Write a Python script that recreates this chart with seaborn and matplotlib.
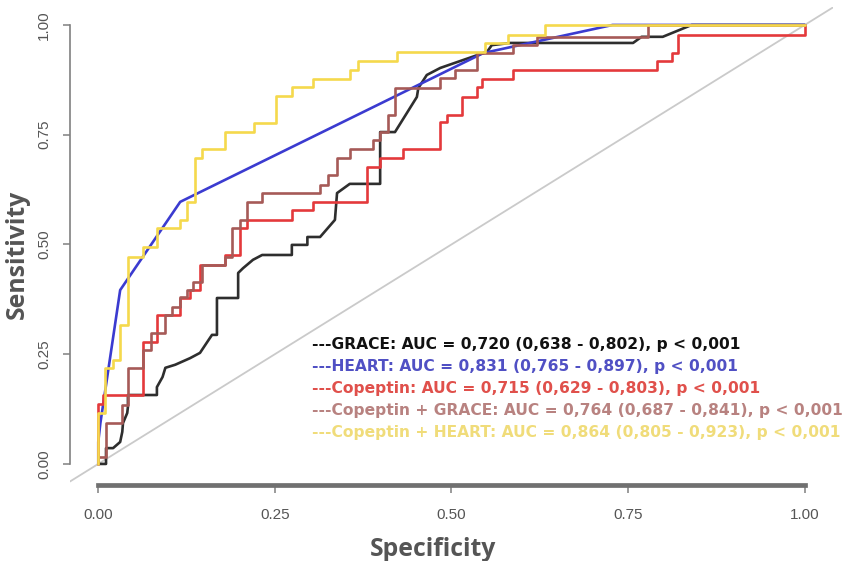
import matplotlib
matplotlib.use("Agg")
import matplotlib.pyplot as plt
import seaborn as sns
import pandas as pd

# ---------------- data ----------------
# GRACE (vertices, includes tied diagonal segments)
grace_x = [0.0, 0.011, 0.011, 0.021, 0.031, 0.034, 0.035, 0.041, 0.042, 0.042, 0.083, 0.083,
           0.091, 0.095, 0.109, 0.130, 0.144, 0.156, 0.161, 0.168, 0.168, 0.198, 0.198, 0.205,
           0.219, 0.232, 0.274, 0.274, 0.296, 0.296, 0.314, 0.335, 0.338, 0.356, 0.399, 0.399,
           0.420, 0.451, 0.453, 0.465, 0.484, 0.509, 0.545, 0.550, 0.557, 0.583, 0.757, 0.769,
           0.799, 0.840, 1.0]
grace_y = [0.0, 0.0, 0.036, 0.036, 0.050, 0.073, 0.093, 0.116, 0.130, 0.157, 0.157, 0.175,
           0.198, 0.219, 0.226, 0.241, 0.253, 0.282, 0.294, 0.294, 0.378, 0.378, 0.435, 0.446,
           0.465, 0.476, 0.476, 0.499, 0.499, 0.517, 0.517, 0.556, 0.617, 0.638, 0.638, 0.756,
           0.756, 0.836, 0.856, 0.886, 0.902, 0.916, 0.936, 0.938, 0.954, 0.959, 0.959, 0.973,
           0.973, 1.0, 1.0]

# HEART (few thresholds -> straight segments)
heart_x = [0.0, 0.0, 0.003, 0.031, 0.116, 0.545, 0.728, 1.0]
heart_y = [0.0, 0.05, 0.093, 0.396, 0.597, 0.936, 1.0, 1.0]

# Copeptin (step curve)
cop_x = [0.0, 0.007, 0.064, 0.083, 0.116, 0.130, 0.144, 0.180, 0.201, 0.211, 0.274, 0.304,
         0.380, 0.399, 0.431, 0.484, 0.494, 0.515, 0.536, 0.543, 0.587, 0.791, 0.812, 0.820,
         1.0, 1.0]
cop_y = [0.0, 0.137, 0.157, 0.278, 0.339, 0.378, 0.396, 0.453, 0.476, 0.538, 0.556, 0.579,
         0.597, 0.677, 0.697, 0.718, 0.779, 0.795, 0.836, 0.859, 0.877, 0.897, 0.918, 0.936,
         0.977, 1.0]

# Copeptin + GRACE (step curve)
copg_x = [0.0, 0.011, 0.034, 0.042, 0.064, 0.074, 0.095, 0.105, 0.116, 0.126, 0.134, 0.147,
          0.180, 0.190, 0.201, 0.211, 0.232, 0.314, 0.325, 0.338, 0.356, 0.389, 0.399, 0.410,
          0.420, 0.484, 0.505, 0.536, 0.587, 0.621, 0.778, 1.0]
copg_y = [0.0, 0.016, 0.093, 0.134, 0.219, 0.260, 0.298, 0.339, 0.357, 0.380, 0.396, 0.415,
          0.453, 0.472, 0.538, 0.556, 0.597, 0.617, 0.636, 0.658, 0.697, 0.718, 0.738, 0.756,
          0.795, 0.856, 0.879, 0.897, 0.936, 0.954, 0.973, 1.0]

# Copeptin + HEART (step curve)
coph_x = [0.0, 0.010, 0.021, 0.031, 0.042, 0.064, 0.083, 0.116, 0.126, 0.137, 0.147, 0.180,
          0.221, 0.252, 0.274, 0.304, 0.356, 0.368, 0.423, 0.547, 0.580, 0.632, 1.0]
coph_y = [0.0, 0.116, 0.219, 0.237, 0.317, 0.472, 0.494, 0.538, 0.556, 0.597, 0.697, 0.718,
          0.756, 0.777, 0.838, 0.859, 0.877, 0.897, 0.918, 0.938, 0.959, 0.977, 1.0]

tick_values = [0.0, 0.25, 0.5, 0.75, 1.0]
tick_labels = ["0.00", "0.25", "0.50", "0.75", "1.00"]

legend_labels = [
    "---GRACE: AUC = 0,720 (0,638 - 0,802), p < 0,001",
    "---HEART: AUC = 0,831 (0,765 - 0,897), p < 0,001",
    "---Copeptin: AUC = 0,715 (0,629 - 0,803), p < 0,001",
    "---Copeptin + GRACE: AUC = 0,764 (0,687 - 0,841), p < 0,001",
    "---Copeptin + HEART: AUC = 0,864 (0,805 - 0,923), p < 0,001",
]

# ---------------- styling ----------------
sns.set_theme(style="white")
plt.rcParams["font.family"] = ["DejaVu Sans"]

line_colors = ["#2e2e2e", "#3b3bd0", "#e4393b", "#a65a57", "#f5d94c"]
text_colors = ["#111111", "#5050c4", "#e0504b", "#b88280", "#f0dc7a"]

fig = plt.figure(figsize=(8.44, 5.61), dpi=100)
ax = fig.add_axes([70 / 844, 76 / 561, 763 / 844, 477.6 / 561])
ax.set_xlim(-0.04, 1.04)
ax.set_ylim(-0.048, 1.04)

# reference diagonal
ax.axline((0, 0), slope=1, color="#cacaca", lw=1.3, zorder=1)

lw = 1.9
sns.lineplot(x=grace_x, y=grace_y, sort=False, estimator=None, color=line_colors[0],
             lw=lw, ax=ax, zorder=3)
sns.lineplot(x=heart_x, y=heart_y, sort=False, estimator=None, color=line_colors[1],
             lw=lw, ax=ax, zorder=3)
sns.lineplot(x=cop_x, y=cop_y, sort=False, estimator=None, color=line_colors[2],
             lw=lw, ax=ax, drawstyle="steps-pre", zorder=3)
sns.lineplot(x=copg_x, y=copg_y, sort=False, estimator=None, color=line_colors[3],
             lw=lw, ax=ax, drawstyle="steps-pre", zorder=3)
sns.lineplot(x=coph_x, y=coph_y, sort=False, estimator=None, color=line_colors[4],
             lw=lw, ax=ax, drawstyle="steps-pre", zorder=4)

# axes appearance (R base style)
for s in ["top", "right"]:
    ax.spines[s].set_visible(False)
ax.spines["left"].set_bounds(0, 1)
ax.spines["left"].set_color("#808080")
ax.spines["left"].set_linewidth(1.2)
ax.spines["bottom"].set_bounds(0, 1)
ax.spines["bottom"].set_color("#707070")
ax.spines["bottom"].set_linewidth(3.4)

ax.set_xticks(tick_values)
ax.set_xticklabels(tick_labels, fontfamily="Liberation Sans", fontsize=11, color="#555555")
ax.set_yticks(tick_values)
ax.set_yticklabels(tick_labels, fontfamily="Liberation Sans", fontsize=11, color="#555555",
                   rotation=90, va="center")
ax.tick_params(axis="y", left=True, length=5, width=1.1, color="#808080", pad=8.5)
ax.tick_params(axis="x", bottom=True, length=5.8, width=1.1, color="#808080", pad=10.5)
ax.grid(False)
ax.set_xlabel("")
ax.set_ylabel("")

fig.text(433 / 844, 1 - 549 / 561, "Specificity", ha="center", va="center",
         fontfamily="Open Sans", fontweight="bold", fontsize=17.8, color="#555555")
fig.text(17 / 844, 1 - 254 / 561, "Sensitivity", ha="center", va="center", rotation=90,
         fontfamily="Open Sans", fontweight="bold", fontsize=17.8, color="#555555")

legend_y = [344, 366, 388, 411, 433]
for lab, col, yy in zip(legend_labels, text_colors, legend_y):
    fig.text(312 / 844, 1 - yy / 561, lab, ha="left", va="center", color=col,
             fontfamily="DejaVu Sans", fontweight="bold", fontsize=11.2)

fig.savefig("out.png", dpi=100, facecolor="white")
